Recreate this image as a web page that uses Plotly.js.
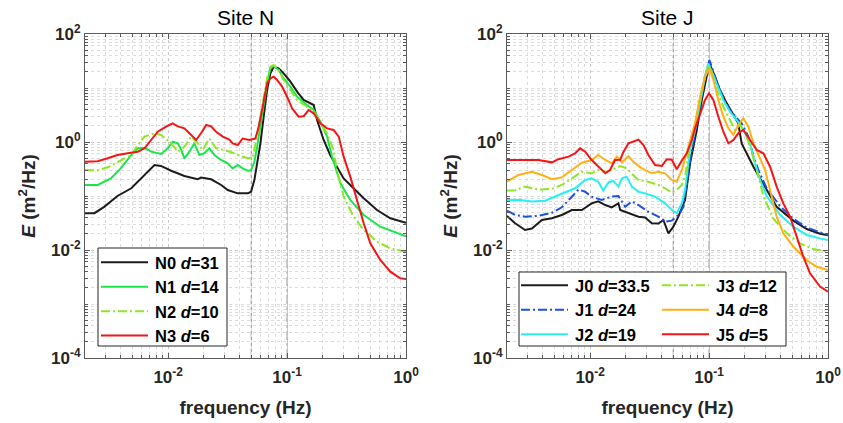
<!DOCTYPE html>
<html>
<head>
<meta charset="utf-8">
<script src="https://cdn.plot.ly/plotly-3.0.1.min.js"></script>
<style>
  html, body { margin: 0; padding: 0; background: #fff; }
  #chart { width: 843px; height: 423px; }
</style>
</head>
<body>
<div id="chart"></div>
<script>
// ---- Site N spectra: frequency (Hz) and energy density E (m^2/Hz) ----
const n0Freq = [0.002, 0.0024, 0.0029, 0.00375, 0.0049, 0.00612, 0.00768, 0.0087, 0.0106, 0.0137, 0.0177, 0.0189, 0.0202, 0.023, 0.0279, 0.0317, 0.0385, 0.0467, 0.0498, 0.0531, 0.056, 0.0597, 0.0636, 0.0679, 0.0724, 0.0771, 0.085, 0.0936, 0.1067, 0.1214, 0.1378, 0.157, 0.1675, 0.1787, 0.203, 0.231, 0.263, 0.281, 0.299, 0.34, 0.441, 0.57, 0.738, 1.0];
const n0E    = [0.048, 0.048, 0.063, 0.1, 0.139, 0.228, 0.375, 0.36, 0.294, 0.235, 0.204, 0.22, 0.215, 0.204, 0.16, 0.129, 0.112, 0.112, 0.12, 0.198, 0.403, 0.945, 2.94, 9.18, 18.7, 24.8, 23.1, 18.7, 13.1, 8.55, 6.0, 5.2, 4.84, 2.55, 1.09, 0.57, 0.349, 0.263, 0.212, 0.16, 0.0906, 0.055, 0.0386, 0.032];

const n1Freq = [0.002, 0.00256, 0.0033, 0.004, 0.0049, 0.00556, 0.00633, 0.0072, 0.00873, 0.00992, 0.0109, 0.0121, 0.0129, 0.0137, 0.0151, 0.0166, 0.0183, 0.0202, 0.0222, 0.0245, 0.0279, 0.0317, 0.0349, 0.0385, 0.0423, 0.0467, 0.0498, 0.0531, 0.056, 0.0616, 0.0679, 0.0724, 0.0771, 0.085, 0.0936, 0.1067, 0.1214, 0.147, 0.1675, 0.1905, 0.217, 0.239, 0.281, 0.34, 0.441, 0.608, 0.84, 1.0];
const n1E    = [0.16, 0.16, 0.212, 0.325, 0.575, 0.764, 0.78, 0.662, 0.6, 0.764, 1.01, 0.945, 0.711, 0.499, 0.662, 0.945, 0.575, 0.62, 0.764, 0.575, 0.464, 0.403, 0.325, 0.375, 0.325, 0.294, 0.3, 0.43, 0.818, 2.94, 12.2, 23.1, 25.5, 21.6, 15.1, 10.6, 6.9, 4.84, 3.91, 2.38, 1.26, 0.535, 0.172, 0.0844, 0.0445, 0.027, 0.0204, 0.018];

const n2Freq = [0.002, 0.00256, 0.0031, 0.004, 0.0049, 0.00556, 0.00633, 0.00768, 0.00873, 0.0106, 0.0121, 0.0137, 0.0156, 0.0177, 0.0195, 0.0222, 0.0253, 0.0297, 0.0349, 0.041, 0.0467, 0.0514, 0.056, 0.0616, 0.0679, 0.0724, 0.0771, 0.085, 0.0936, 0.1067, 0.1214, 0.147, 0.1675, 0.1905, 0.217, 0.246, 0.263, 0.299, 0.363, 0.441, 0.57, 0.738, 1.0];
const n2E    = [0.303, 0.3, 0.34, 0.464, 0.575, 0.88, 1.26, 1.45, 1.35, 0.945, 0.662, 0.818, 1.26, 0.95, 0.711, 1.16, 0.764, 0.711, 0.634, 0.545, 0.499, 0.52, 1.26, 4.5, 15.1, 24.8, 26.7, 21.6, 14.1, 9.18, 6.0, 4.5, 3.65, 2.22, 1.45, 0.711, 0.3, 0.097, 0.0414, 0.0235, 0.0143, 0.0107, 0.0093];

const n3Freq = [0.002, 0.00256, 0.0031, 0.00375, 0.00458, 0.00556, 0.00633, 0.0072, 0.00818, 0.0096, 0.0109, 0.0121, 0.0137, 0.0151, 0.0172, 0.0189, 0.0209, 0.023, 0.0253, 0.0288, 0.0327, 0.0349, 0.0385, 0.0423, 0.0482, 0.0542, 0.0577, 0.0616, 0.0679, 0.0724, 0.0771, 0.0824, 0.0908, 0.1, 0.1102, 0.125, 0.1378, 0.152, 0.1675, 0.1905, 0.217, 0.246, 0.272, 0.299, 0.34, 0.387, 0.441, 0.501, 0.608, 0.738, 0.895, 1.0];
const n3E    = [0.432, 0.44, 0.499, 0.575, 0.617, 0.662, 0.764, 1.09, 1.55, 1.92, 2.22, 1.95, 1.79, 1.45, 1.09, 1.45, 2.07, 1.95, 1.55, 1.26, 1.11, 0.945, 0.88, 1.16, 1.09, 1.16, 1.92, 3.91, 12.2, 15.1, 16.2, 14.1, 10.6, 6.9, 4.2, 2.94, 3.0, 3.91, 3.4, 2.22, 1.79, 1.67, 1.26, 0.535, 0.228, 0.0844, 0.0312, 0.0133, 0.00653, 0.00397, 0.00299, 0.0029];

// ---- Site J spectra ----
const j0Freq = [0.002, 0.00234, 0.00284, 0.00324, 0.00393, 0.00477, 0.00578, 0.00702, 0.00851, 0.0103, 0.0117, 0.0134, 0.0152, 0.0173, 0.0179, 0.021, 0.0255, 0.029, 0.033, 0.0375, 0.0413, 0.0455, 0.0501, 0.0552, 0.0628, 0.0692, 0.0788, 0.0868, 0.0957, 0.1007, 0.1122, 0.1236, 0.141, 0.16, 0.176, 0.188, 0.214, 0.236, 0.305, 0.37, 0.511, 0.662, 0.857, 1.0];
const j0E    = [0.0426, 0.0312, 0.0235, 0.025, 0.036, 0.0386, 0.0445, 0.055, 0.055, 0.0731, 0.0795, 0.068, 0.0617, 0.0731, 0.055, 0.049, 0.0414, 0.04, 0.0312, 0.031, 0.036, 0.0204, 0.027, 0.0414, 0.0844, 0.403, 1.67, 6.0, 18.7, 28.6, 16.2, 9.18, 5.2, 3.16, 2.22, 0.945, 0.535, 0.349, 0.13, 0.063, 0.035, 0.0245, 0.02, 0.0188];

const j1Freq = [0.002, 0.00234, 0.00284, 0.00368, 0.00477, 0.00578, 0.00702, 0.00797, 0.00908, 0.0103, 0.0125, 0.0152, 0.0173, 0.0197, 0.0224, 0.0255, 0.0309, 0.0375, 0.0427, 0.0486, 0.0552, 0.0609, 0.0692, 0.0762, 0.084, 0.0925, 0.1007, 0.116, 0.1318, 0.15, 0.171, 0.188, 0.214, 0.236, 0.26, 0.305, 0.395, 0.511, 0.662, 0.857, 1.0];
const j1E    = [0.0535, 0.0445, 0.0414, 0.043, 0.049, 0.0617, 0.097, 0.132, 0.12, 0.097, 0.0844, 0.0975, 0.1, 0.063, 0.0795, 0.068, 0.0508, 0.0414, 0.0335, 0.035, 0.0445, 0.063, 0.45, 1.5, 5.0, 16.0, 33.0, 13.1, 6.4, 3.91, 2.75, 2.22, 1.26, 0.55, 0.3, 0.14, 0.065, 0.038, 0.026, 0.021, 0.019];

const j2Freq = [0.002, 0.0025, 0.00324, 0.0042, 0.00508, 0.00617, 0.00748, 0.00908, 0.0103, 0.0117, 0.0129, 0.0143, 0.0157, 0.0173, 0.0185, 0.0203, 0.0224, 0.0255, 0.029, 0.0352, 0.0427, 0.0486, 0.0535, 0.059, 0.0628, 0.0692, 0.0762, 0.084, 0.0925, 0.0987, 0.116, 0.1318, 0.15, 0.171, 0.194, 0.221, 0.244, 0.268, 0.305, 0.395, 0.511, 0.662, 0.857, 1.0];
const j2E    = [0.0844, 0.085, 0.0795, 0.082, 0.098, 0.115, 0.139, 0.198, 0.212, 0.184, 0.126, 0.18, 0.19, 0.149, 0.212, 0.228, 0.149, 0.12, 0.112, 0.097, 0.0731, 0.055, 0.0484, 0.0731, 0.129, 0.711, 1.67, 5.2, 16.2, 28.6, 12.2, 6.0, 3.65, 2.55, 1.67, 0.945, 0.4, 0.2, 0.1, 0.045, 0.027, 0.019, 0.0164, 0.0153];

const j3Freq = [0.002, 0.00234, 0.00284, 0.00368, 0.00477, 0.00578, 0.00702, 0.00851, 0.0103, 0.0117, 0.0134, 0.0152, 0.0179, 0.0203, 0.0224, 0.0255, 0.0309, 0.0375, 0.0427, 0.0486, 0.0535, 0.059, 0.0628, 0.067, 0.0738, 0.0813, 0.0896, 0.0987, 0.1055, 0.116, 0.1318, 0.15, 0.165, 0.182, 0.201, 0.221, 0.252, 0.286, 0.347, 0.45, 0.582, 0.752, 1.0];
const j3E    = [0.126, 0.128, 0.149, 0.132, 0.135, 0.16, 0.212, 0.282, 0.263, 0.303, 0.28, 0.303, 0.36, 0.325, 0.257, 0.198, 0.184, 0.16, 0.139, 0.115, 0.13, 0.16, 0.228, 0.6, 1.45, 4.5, 12.2, 26.7, 20.0, 9.18, 4.5, 2.55, 1.67, 2.07, 1.55, 0.818, 0.3, 0.1, 0.038, 0.0204, 0.0133, 0.0104, 0.0093];

const j4Freq = [0.002, 0.00249, 0.00324, 0.00393, 0.00477, 0.00578, 0.00702, 0.00851, 0.0103, 0.0117, 0.0134, 0.0152, 0.0168, 0.0185, 0.021, 0.0231, 0.0272, 0.033, 0.0375, 0.0427, 0.0486, 0.0535, 0.059, 0.0628, 0.0692, 0.0762, 0.084, 0.0925, 0.1007, 0.1087, 0.1197, 0.1318, 0.1454, 0.16, 0.176, 0.194, 0.214, 0.236, 0.26, 0.296, 0.326, 0.37, 0.421, 0.511, 0.662, 0.803, 1.0];
const j4E    = [0.184, 0.245, 0.282, 0.245, 0.204, 0.221, 0.303, 0.414, 0.464, 0.575, 0.464, 0.403, 0.535, 0.42, 0.545, 0.432, 0.325, 0.263, 0.28, 0.263, 0.198, 0.184, 0.303, 0.5, 1.09, 2.22, 6.9, 16.2, 23.1, 14.1, 6.0, 2.94, 1.79, 1.35, 2.07, 2.75, 1.92, 0.945, 0.575, 0.303, 0.129, 0.0414, 0.0204, 0.0115, 0.00653, 0.0049, 0.00427];

const j5Freq = [0.002, 0.00284, 0.00368, 0.00477, 0.00542, 0.00658, 0.00748, 0.00824, 0.00908, 0.0103, 0.0117, 0.0134, 0.0147, 0.0162, 0.0179, 0.0191, 0.021, 0.0231, 0.0255, 0.0281, 0.0309, 0.0352, 0.0401, 0.0441, 0.0486, 0.0535, 0.059, 0.065, 0.0716, 0.0762, 0.084, 0.0925, 0.1, 0.1087, 0.1197, 0.1318, 0.1454, 0.16, 0.176, 0.194, 0.221, 0.252, 0.286, 0.315, 0.326, 0.37, 0.421, 0.48, 0.546, 0.62, 0.706, 0.857, 1.0];
const j5E    = [0.464, 0.464, 0.464, 0.42, 0.48, 0.535, 0.617, 0.764, 0.662, 0.464, 0.349, 0.263, 0.303, 0.464, 0.47, 0.662, 0.945, 1.01, 1.11, 0.88, 0.575, 0.375, 0.36, 0.48, 0.47, 0.312, 0.456, 0.617, 1.09, 1.79, 3.4, 6.0, 7.96, 6.0, 2.94, 1.55, 0.945, 1.09, 1.45, 1.67, 1.09, 0.711, 0.617, 0.403, 0.349, 0.149, 0.0731, 0.0414, 0.0177, 0.0075, 0.0037, 0.0021, 0.00169];

// ---- labels, reference frequencies and ticks ----
const siteTitles = ['Site N', 'Site J'];
const nNames = ['N0 <i>d</i>=31', 'N1 <i>d</i>=14', 'N2 <i>d</i>=10', 'N3 <i>d</i>=6'];
const jNames = ['J0 <i>d</i>=33.5', 'J1 <i>d</i>=24', 'J2 <i>d</i>=19', 'J3 <i>d</i>=12', 'J4 <i>d</i>=8', 'J5 <i>d</i>=5'];
const markerFreqs = [0.05, 0.1];
const xTickVals = [0.01, 0.1, 1];
const xTickText = ['10<sup>-2</sup>', '10<sup>-1</sup>', '10<sup>0</sup>'];
const yTickVals = [1e-4, 1e-2, 1, 100];
const yTickText = ['10<sup>-4</sup>', '10<sup>-2</sup>', '10<sup>0</sup>', '10<sup>2</sup>'];
const xRange = [0.002, 1];
const yRange = [1e-4, 100];

// minor log ticks: 2..9 times each decade (plus the unlabelled decades)
function minorLogTicks(firstExp, lastExp, withDecades) {
  const out = [];
  for (let p = firstExp; p <= lastExp; p++) {
    if (withDecades && p > firstExp && (p - firstExp) % 2 === 1) out.push(Math.pow(10, p));
    for (let m = 2; m <= 9; m++) out.push(m * Math.pow(10, p));
  }
  return out;
}
const xMinor = minorLogTicks(-3, -1, false);
const yMinor = minorLogTicks(-4, 1, true);

const FONT = 'Liberation Sans, Arial, Helvetica, sans-serif';
const INK = '#262626';
const BLACK = '#1c1c1c', GREEN = '#19e64b', LIME = '#8ee626', RED = '#f21616';
const BLUE = '#1f4fe0', CYAN = '#27f0f0', ORANGE = '#ffb014';
const DASHDOT = '9px,3px,2px,3px';

function line(freq, e, name, color, dash, xa, ya, legend) {
  return {
    type: 'scatter', mode: 'lines', x: freq, y: e, name: name,
    xaxis: xa, yaxis: ya, legend: legend,
    line: { color: color, width: 2, dash: dash || 'solid' },
    hoverinfo: 'x+y+name'
  };
}

const traces = [
  line(n0Freq, n0E, nNames[0], BLACK, null, 'x', 'y', 'legend'),
  line(n1Freq, n1E, nNames[1], GREEN, null, 'x', 'y', 'legend'),
  line(n2Freq, n2E, nNames[2], LIME, DASHDOT, 'x', 'y', 'legend'),
  line(n3Freq, n3E, nNames[3], RED, null, 'x', 'y', 'legend'),
  line(j0Freq, j0E, jNames[0], BLACK, null, 'x2', 'y2', 'legend2'),
  line(j1Freq, j1E, jNames[1], BLUE, DASHDOT, 'x2', 'y2', 'legend2'),
  line(j2Freq, j2E, jNames[2], CYAN, null, 'x2', 'y2', 'legend2'),
  line(j3Freq, j3E, jNames[3], LIME, DASHDOT, 'x2', 'y2', 'legend3'),
  line(j4Freq, j4E, jNames[4], ORANGE, null, 'x2', 'y2', 'legend3'),
  line(j5Freq, j5E, jNames[5], RED, null, 'x2', 'y2', 'legend3')
];

const W = 843, H = 423;
const px = v => v / W;
const py = v => 1 - v / H;

const GRID = '#c8c8c8', MINOR_GRID = '#dcdcdc', AXIS = '#5a5a5a';

function xAxis(domain, anchor) {
  return {
    type: 'log', domain: domain, anchor: anchor,
    range: xRange.map(Math.log10),
    tickvals: xTickVals, ticktext: xTickText,
    ticks: 'inside', ticklen: 5, tickcolor: AXIS, ticklabelstandoff: 4,
    showline: true, linecolor: AXIS, linewidth: 1, mirror: 'ticks',
    showgrid: true, gridcolor: GRID, gridwidth: 1, griddash: 'dot',
    minor: { tickmode: 'array', tickvals: xMinor, ticks: 'inside', ticklen: 3, tickcolor: AXIS,
             showgrid: true, gridcolor: MINOR_GRID, griddash: 'dot' },
    zeroline: false,
    tickfont: { family: FONT, size: 17, color: INK, weight: 'bold' },
    title: { text: 'frequency (Hz)', font: { family: FONT, size: 19, color: INK, weight: 'bold' }, standoff: 14 }
  };
}
function yAxis(domain, anchor) {
  return {
    type: 'log', domain: domain, anchor: anchor,
    range: yRange.map(Math.log10),
    tickvals: yTickVals, ticktext: yTickText,
    ticks: 'inside', ticklen: 5, tickcolor: AXIS,
    showline: true, linecolor: AXIS, linewidth: 1, mirror: 'ticks',
    showgrid: true, gridcolor: GRID, gridwidth: 1, griddash: 'dot',
    minor: { tickmode: 'array', tickvals: yMinor, ticks: 'inside', ticklen: 3, tickcolor: AXIS,
             showgrid: true, gridcolor: MINOR_GRID, griddash: 'dot' },
    zeroline: false,
    tickfont: { family: FONT, size: 17, color: INK, weight: 'bold' },
    title: { text: '<i>E</i> (m<sup>2</sup>/Hz)', font: { family: FONT, size: 19, color: INK, weight: 'bold' }, standoff: 10 }
  };
}

const yDom = [py(358), py(34)];
const legendFont = { family: FONT, size: 16.5, color: '#000', weight: 'bold' };

const shapes = [];
['x', 'x2'].forEach(xr => {
  markerFreqs.forEach(f => shapes.push({
    type: 'line', xref: xr, yref: (xr === 'x' ? 'y' : 'y2') + ' domain',
    x0: f, x1: f, y0: 0, y1: 1, layer: 'below',
    line: { color: '#8a8a8a', width: 1, dash: 'dashdot' }
  }));
});
// legend frames (white boxes behind the legend entries)
[[98, 227, 248, 346], [519, 786, 272, 346]].forEach(b => shapes.push({
  type: 'rect', xref: 'paper', yref: 'paper',
  x0: px(b[0]), x1: px(b[1]), y0: py(b[3]), y1: py(b[2]),
  line: { color: INK, width: 1 }, fillcolor: '#fff', layer: 'above'
}));

function legendAt(x, y) {
  return {
    x: px(x), y: py(y), xanchor: 'left', yanchor: 'top',
    bgcolor: 'rgba(0,0,0,0)', borderwidth: 0,
    font: legendFont, tracegroupgap: 0, itemwidth: 46
  };
}

const layout = {
  width: W, height: H,
  margin: { l: 0, r: 0, t: 0, b: 0 },
  paper_bgcolor: '#fff', plot_bgcolor: '#fff',
  font: { family: FONT, color: INK },
  xaxis: xAxis([px(85), px(406)], 'y'),
  yaxis: yAxis(yDom, 'x'),
  xaxis2: xAxis([px(507), px(828)], 'y2'),
  yaxis2: yAxis(yDom, 'x2'),
  showlegend: true,
  legend: legendAt(99, 245),
  legend2: legendAt(519, 268),
  legend3: legendAt(660, 268),
  annotations: siteTitles.map((t, i) => ({
    text: t, xref: 'paper', yref: 'paper',
    x: i === 0 ? px((85 + 406) / 2) : px((507 + 828) / 2), y: py(18),
    xanchor: 'center', yanchor: 'middle', showarrow: false,
    font: { family: FONT, size: 21, color: '#000' }
  })),
  shapes: shapes
};

Plotly.newPlot('chart', traces, layout, { staticPlot: true, displayModeBar: false }).then(gd => {
  // longer line samples in the legends
  gd.querySelectorAll('.legendlines path').forEach(p => p.setAttribute('d', 'M2,0h47'));
});
</script>
</body>
</html>
